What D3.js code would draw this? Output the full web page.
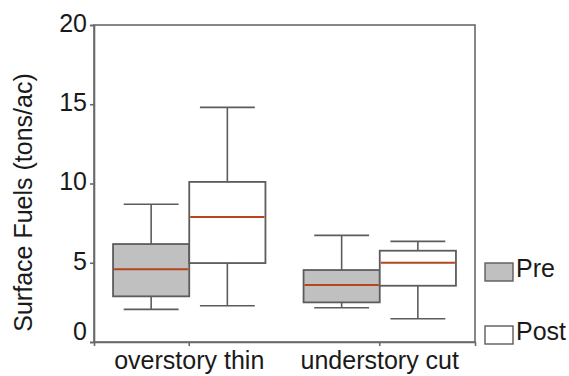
<!DOCTYPE html>
<html>
<head>
<meta charset="utf-8">
<script src="https://cdn.jsdelivr.net/npm/d3@7"></script>
<style>
  body { margin: 0; background: #fff; }
  svg text { font-family: "Liberation Sans", Arial, sans-serif; fill: #1a1a1a; }
</style>
</head>
<body>
<svg id="chart" width="569" height="376"></svg>
<script>
const categories = ["overstory thin", "understory cut"];
const series = ["Pre", "Post"];
// [whiskerLow, Q1, median, Q3, whiskerHigh] per category
const preStats  = [[2.06, 2.88, 4.59, 6.18, 8.69], [2.16, 2.50, 3.60, 4.54, 6.73]];
const postStats = [[2.29, 4.98, 7.89, 10.10, 14.80], [1.47, 3.55, 5.00, 5.76, 6.35]];
const yTicks = [0, 5, 10, 15, 20];
const yTitle = "Surface Fuels (tons/ac)";

const svg = d3.select("#chart");
const L = 94, R = 475, T = 25, B = 342;
const FS = 25;
const fills = { Pre: "#c0c0c0", Post: "#ffffff" };
const stroke = "#5c5c5c";
const medColor = "#b5461e";

const y = d3.scaleLinear().domain([0, 20]).range([B, T]);
const x = d3.scaleBand().domain(categories).range([L, R]).padding(0);
const xs = d3.scaleBand().domain(series).range([0, x.bandwidth() * 0.8]);
const off = x.bandwidth() * 0.1;

// frame
svg.append("rect").attr("x", L).attr("y", T).attr("width", R - L).attr("height", B - T)
  .attr("fill", "none").attr("stroke", "#6a6a6a").attr("stroke-width", 1.6);

// y axis
const gy = svg.append("g").attr("transform", `translate(${L},0)`)
  .call(d3.axisLeft(y).tickValues(yTicks).tickSize(4).tickPadding(3));
gy.select(".domain").attr("stroke", "#6a6a6a").attr("stroke-width", 1.6);
gy.selectAll(".tick line").attr("stroke", "#6a6a6a").attr("stroke-width", 1.6);
gy.selectAll(".tick text").attr("font-size", FS).attr("fill", "#1a1a1a")
  .attr("dy", d => d === 0 ? "-0.1em" : "0.25em");

// x axis
const gx = svg.append("g").attr("transform", `translate(0,${B})`)
  .call(d3.axisBottom(x).tickSize(4).tickPadding(5));
gx.select(".domain").attr("stroke", "#6a6a6a").attr("stroke-width", 1.6);
gx.selectAll(".tick line").attr("stroke", "#6a6a6a").attr("stroke-width", 1.6);
gx.selectAll(".tick text").attr("font-size", FS).attr("fill", "#1a1a1a").attr("dy", "0.72em");

// y title
svg.append("text").attr("transform", `translate(32,${(T + B) / 2 + 19}) rotate(-90)`)
  .attr("text-anchor", "middle").attr("font-size", FS).text(yTitle);

// boxes
const data = [];
categories.forEach((c, i) => {
  data.push({ c, s: "Pre", v: preStats[i] });
  data.push({ c, s: "Post", v: postStats[i] });
});
const g = svg.append("g");
const bw = xs.bandwidth();
const capW = bw * 0.72;
data.forEach(d => {
  const x0 = x(d.c) + off + xs(d.s);
  const cx = x0 + bw / 2;
  const [lo, q1, md, q3, hi] = d.v;
  const grp = g.append("g");
  grp.append("line").attr("x1", cx).attr("x2", cx).attr("y1", y(hi)).attr("y2", y(q3))
    .attr("stroke", stroke).attr("stroke-width", 1.6);
  grp.append("line").attr("x1", cx).attr("x2", cx).attr("y1", y(q1)).attr("y2", y(lo))
    .attr("stroke", stroke).attr("stroke-width", 1.6);
  [hi, lo].forEach(v => grp.append("line").attr("x1", cx - capW / 2).attr("x2", cx + capW / 2)
    .attr("y1", y(v)).attr("y2", y(v)).attr("stroke", stroke).attr("stroke-width", 1.6));
  grp.append("rect").attr("x", x0).attr("y", y(q3)).attr("width", bw).attr("height", y(q1) - y(q3))
    .attr("fill", fills[d.s]).attr("stroke", stroke).attr("stroke-width", 1.8);
  grp.append("line").attr("x1", x0 + 1).attr("x2", x0 + bw - 1).attr("y1", y(md)).attr("y2", y(md))
    .attr("stroke", medColor).attr("stroke-width", 2);
});

// legend
const leg = svg.append("g");
series.forEach((s, i) => {
  const yy = i === 0 ? 263 : 326;
  leg.append("rect").attr("x", 485).attr("y", yy).attr("width", 28).attr("height", 18)
    .attr("fill", fills[s]).attr("stroke", stroke).attr("stroke-width", 1.4);
  leg.append("text").attr("x", 516).attr("y", yy + 14).attr("font-size", FS).text(s);
});
</script>
</body>
</html>
